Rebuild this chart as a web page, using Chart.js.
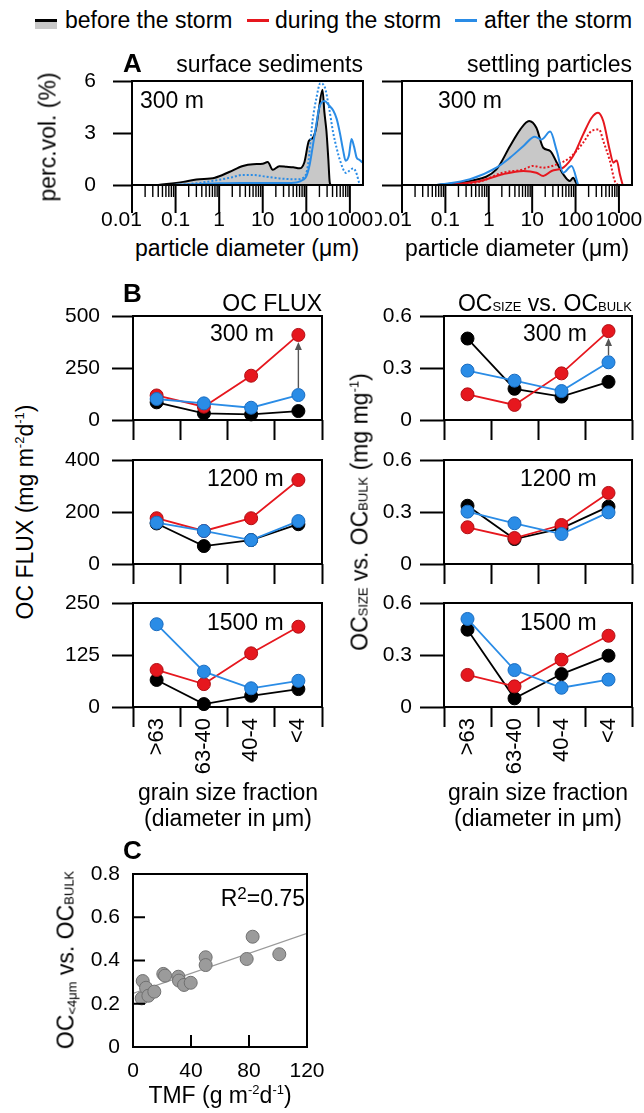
<!DOCTYPE html>
<html>
<head>
<meta charset="utf-8">
<script src="https://cdn.jsdelivr.net/npm/chart.js@4.4.1/dist/chart.umd.min.js"></script>
<style>
  body { margin: 0; background: #fff; }
  #fig { position: relative; width: 644px; height: 1113px; overflow: hidden;
         font-family: "Liberation Sans", Arial, Helvetica, sans-serif; color: #000; }
  #fig canvas { position: absolute; }
  .t { position: absolute; white-space: nowrap; font-size: 23px; line-height: 1; }
  .b { font-weight: bold; font-size: 26px; }
  .sc { font-size: 13px; }
  .sup { font-size: 13px; position: relative; top: -9px; }
  .sub { font-size: 13px; position: relative; top: 3px; }
  .key { position: absolute; height: 3px; width: 22px; }
</style>
</head>
<body>
<div id="fig"></div>
<script>
// ---- panel A: grain size distributions (300 m) ----
const decades = [0.01, 0.1, 1, 10, 100, 1000];
const decadeLabels = ['0.01', '0.1', '1', '10', '100', '1000'];

const surfBeforeD = [0.04, 0.15, 0.3, 0.8, 1.7, 3.5, 6, 10, 13, 17, 24, 35, 50, 70, 90, 115, 140, 165, 190, 235, 260, 290, 320, 345, 370];
const surfBeforeV = [0, 0.18, 0.32, 0.42, 0.75, 1.1, 1.2, 1.22, 1.33, 0.88, 1.08, 1.05, 1.02, 0.96, 1.3, 2.55, 2.7, 3.2, 4.2, 5.5, 4.2, 3.1, 1.5, 0.15, 0];
const surfAfterD = [0.08, 0.3, 1, 3, 10, 30, 60, 85, 100, 120, 140, 170, 200, 263, 330, 415, 500, 590, 700, 800, 950, 1090, 1250, 1420, 1650, 1950];
const surfAfterV = [0, 0.05, 0.1, 0.12, 0.12, 0.12, 0.15, 0.3, 0.5, 1.2, 2.2, 3.5, 4.5, 4.85, 4.6, 4.3, 3.8, 3.0, 2.0, 1.4, 1.7, 2.65, 2.2, 1.6, 1.45, 1.3];
const surfAfter2D = [0.1, 0.3, 1, 2, 3.5, 6, 12, 24, 58, 90, 110, 140, 170, 210, 263, 330, 415, 500, 590, 820, 1000, 1200, 1450, 1600, 1750];
const surfAfter2V = [0, 0.1, 0.3, 0.45, 0.58, 0.58, 0.48, 0.38, 0.33, 0.45, 1.2, 3.75, 5.0, 5.87, 5.67, 4.5, 3.0, 2.1, 1.44, 0.69, 0.85, 0.96, 0.6, 0.19, 0];

const settBeforeD = [0.063, 0.37, 1.5, 3.1, 5.3, 8.5, 12.5, 18, 26, 37, 52, 74, 88, 105, 115];
const settBeforeV = [0, 0.23, 0.9, 2.25, 3.2, 3.69, 3.3, 2.15, 1.96, 1.29, 0.62, 0.23, 0.42, 0.08, 0];
const settAfterD = [0.063, 0.37, 1.5, 3.1, 6.3, 11.5, 16.5, 26, 37, 52, 81, 115];
const settAfterV = [0, 0.33, 1.0, 1.58, 2.25, 2.79, 2.63, 3.08, 1.96, 0.71, 1.1, 0];
const settDuringD = [0.1, 0.63, 2.1, 6.3, 12.5, 18, 28, 52, 88, 150, 235, 330, 435, 620, 740, 890, 1050, 1220];
const settDuringV = [0, 0.23, 0.62, 0.81, 0.71, 0.52, 0.81, 1.0, 1.67, 2.92, 3.88, 4.17, 3.69, 1.96, 1.29, 1.42, 0.62, 0];
const settDuring2D = [0.2, 0.63, 2.1, 6.3, 10.5, 18, 37, 74, 150, 235, 350, 435, 620, 800, 950];
const settDuring2V = [0, 0.2, 0.71, 0.9, 1.1, 1.0, 1.19, 1.58, 2.44, 3.12, 3.2, 2.54, 1.38, 0.23, 0];

// ---- panel B: per grain size fraction ----
const grainFractions = ['>63', '63-40', '40-4', '<4'];

const fluxBefore300 = [85, 32, 27, 43];
const fluxDuring300 = [118, 64, 213, 409];
const fluxAfter300 = [101, 80, 59, 120];
const fluxBefore1200 = [156, 69, 92, 153];
const fluxDuring1200 = [176, 127, 176, 323];
const fluxAfter1200 = [159, 127, 92, 165];
const fluxBefore1500 = [65, 7, 27, 43];
const fluxDuring1500 = [89, 55, 129, 193];
const fluxAfter1500 = [199, 85, 45, 63];

const ratioBefore300 = [0.47, 0.18, 0.135, 0.22];
const ratioDuring300 = [0.148, 0.087, 0.269, 0.513];
const ratioAfter300 = [0.285, 0.227, 0.167, 0.333];
const ratioBefore1200 = [0.336, 0.144, 0.206, 0.331];
const ratioDuring1200 = [0.212, 0.15, 0.225, 0.41];
const ratioAfter1200 = [0.302, 0.235, 0.173, 0.298];
const ratioBefore1500 = [0.446, 0.05, 0.19, 0.296];
const ratioDuring1500 = [0.185, 0.119, 0.273, 0.411];
const ratioAfter1500 = [0.508, 0.213, 0.111, 0.158];

// ---- panel C: OC<4um ratio vs total mass flux ----
const tmf = [6.7, 6.0, 9.0, 10.6, 14.7, 20.9, 22.1, 31.3, 31.7, 35.2, 39.8, 50.1, 50.1, 78.4, 82.5, 100.9];
const ocFine = [0.305, 0.225, 0.274, 0.237, 0.256, 0.338, 0.33, 0.325, 0.307, 0.287, 0.297, 0.415, 0.379, 0.407, 0.51, 0.429];
const fitX = [0, 120];
const fitY = [0.248, 0.526];

const BLUE = '#2a8ce6', BLUE_EDGE = '#1a6cc0';
const RED = '#e6171e', RED_EDGE = '#b00e14';
const GRAY_FILL = '#c8c8c8';

Chart.defaults.font.family = "'Liberation Sans', Arial, Helvetica, sans-serif";
Chart.defaults.font.size = 21;
Chart.defaults.color = '#000';
Chart.defaults.animation = false;
Chart.defaults.events = [];
Chart.defaults.plugins.legend.display = false;
Chart.defaults.plugins.tooltip.enabled = false;

const fig = document.getElementById('fig');
const fmt = v => String(+(+v).toFixed(2));

// minor/major tick positions for the log axis
const diamTicks = [];
decades.forEach(d => {
  for (let m = 1; m <= 9; m++) {
    const v = m === 1 ? d : +(m * d).toPrecision(3);
    if (v <= 1000) diamTicks.push(v);
  }
});

function addCanvas(x, y, w, h) {
  const c = document.createElement('canvas');
  c.width = w; c.height = h;
  c.style.left = x + 'px'; c.style.top = y + 'px';
  c.style.width = w + 'px'; c.style.height = h + 'px';
  fig.appendChild(c);
  return c;
}

function text(html, x, y, align, cls) {
  const d = document.createElement('div');
  d.className = 't' + (cls ? ' ' + cls : '');
  d.innerHTML = html;
  d.style.left = x + 'px';
  d.style.top = y + 'px';
  if (align === 'rot') {
    d.style.transform = 'translate(-50%, -50%) rotate(-90deg)';
  } else {
    const tx = align === 'right' ? '-100%' : align === 'center' ? '-50%' : '0';
    d.style.transform = `translate(${tx}, -50%)`;
  }
  fig.appendChild(d);
}

// fixed axis sizes, no label overflow padding, so the plot boxes land where they should
function fixSize(prop, size) {
  return s => {
    s[prop] = size;
    s.paddingTop = s.paddingBottom = s.paddingLeft = s.paddingRight = 0;
  };
}

const frame = {
  id: 'frame',
  afterDraw(chart) {
    const { ctx, chartArea: a } = chart;
    ctx.save();
    ctx.strokeStyle = '#000';
    ctx.lineWidth = 2;
    ctx.strokeRect(a.left, a.top, a.right - a.left, a.bottom - a.top);
    ctx.restore();
  }
};

const logTicks = {
  id: 'logTicks',
  afterDraw(chart) {
    const { ctx, chartArea: a } = chart;
    const sc = chart.scales.x;
    ctx.save();
    ctx.strokeStyle = '#000';
    sc.ticks.forEach(t => {
      const px = sc.getPixelForValue(t.value);
      const major = decades.includes(t.value);
      ctx.lineWidth = major ? 2 : 1.4;
      ctx.beginPath();
      ctx.moveTo(px, a.bottom);
      ctx.lineTo(px, a.bottom + (major ? 28 : 12));
      ctx.stroke();
    });
    ctx.restore();
  }
};

const innerTicks = {
  id: 'innerTicks',
  afterDraw(chart) {
    const { ctx, chartArea: a, scales: { x, y } } = chart;
    ctx.save();
    ctx.strokeStyle = '#000';
    ctx.lineWidth = 2;
    ctx.beginPath();
    x.ticks.forEach(t => {
      const px = x.getPixelForValue(t.value);
      ctx.moveTo(px, a.bottom); ctx.lineTo(px, a.bottom - 12);
    });
    y.ticks.forEach(t => {
      const py = y.getPixelForValue(t.value);
      ctx.moveTo(a.left, py); ctx.lineTo(a.left + 12, py);
    });
    ctx.stroke();
    ctx.restore();
  }
};

function arrowPlugin(fromVals, toVals, idx) {
  return {
    id: 'arrow',
    afterDatasetsDraw(chart) {
      const { ctx, scales: { x, y } } = chart;
      const px = x.getPixelForValue(idx);
      const y0 = y.getPixelForValue(fromVals[idx]) - 7;
      const y1 = y.getPixelForValue(toVals[idx]) + 7;
      ctx.save();
      ctx.strokeStyle = '#555';
      ctx.fillStyle = '#555';
      ctx.lineWidth = 1.4;
      ctx.beginPath(); ctx.moveTo(px, y0); ctx.lineTo(px, y1 + 6); ctx.stroke();
      ctx.beginPath(); ctx.moveTo(px, y1); ctx.lineTo(px - 3.5, y1 + 8); ctx.lineTo(px + 3.5, y1 + 8);
      ctx.closePath(); ctx.fill();
      ctx.restore();
    }
  };
}

function yScale(min, max, step, tickLen, pad, width, showLabels) {
  return {
    min, max,
    ticks: { stepSize: step, padding: pad, callback: v => showLabels ? fmt(v) : '' },
    grid: { drawOnChartArea: false, drawTicks: true, tickLength: tickLen, tickWidth: 2, tickColor: '#000' },
    border: { display: false },
    afterFit: fixSize('width', width)
  };
}

// ---- panel A ----
function curve(ds, vs, color, extra) {
  return Object.assign({
    data: ds.map((d, i) => ({ x: d, y: vs[i] })),
    borderColor: color, borderWidth: 2, pointRadius: 0,
    cubicInterpolationMode: 'monotone', fill: false
  }, extra || {});
}

function aPanel(x, w, yw, rightPad, tickLen, showY, sets) {
  const c = addCanvas(x, 71, w, 160);
  return new Chart(c, {
    type: 'line',
    data: { datasets: sets },
    options: {
      responsive: false,
      layout: { padding: { top: 10, right: rightPad, left: 0, bottom: 0 }, autoPadding: false },
      scales: {
        x: {
          type: 'logarithmic', min: 0.01, max: 2000,
          afterBuildTicks: s => { s.ticks = diamTicks.map(v => ({ value: v })); },
          ticks: {
            autoSkip: false, maxRotation: 0, minRotation: 0, padding: 23,
            // first label sits a little left of its tick, as in the original
            callback: v => {
              const i = decades.indexOf(v);
              if (i < 0) return '';
              return i === 0 ? decadeLabels[i] + '\u2002\u2002' : decadeLabels[i];
            }
          },
          grid: { drawOnChartArea: false, drawTicks: false },
          border: { display: false },
          afterFit: fixSize('height', 46)
        },
        y: yScale(0, 6, 3, tickLen, 17, yw, showY)
      }
    },
    plugins: [frame, logTicks]
  });
}

aPanel(60, 320, 72, 17, 19, true, [
  curve(surfAfterD, surfAfterV, BLUE),
  curve(surfAfter2D, surfAfter2V, BLUE, { borderDash: [2, 2] }),
  curve(surfBeforeD, surfBeforeV, '#000', { fill: 'origin', backgroundColor: GRAY_FILL })
]);

aPanel(375, 269, 27, 12, 20, false, [
  curve(settAfterD, settAfterV, BLUE),
  curve(settDuringD, settDuringV, RED),
  curve(settDuring2D, settDuring2V, RED, { borderDash: [2, 2] }),
  curve(settBeforeD, settBeforeV, '#000', { fill: 'origin', backgroundColor: GRAY_FILL })
]);

// ---- panel B ----
function series(data, color, edge) {
  return {
    data, borderColor: color, backgroundColor: color,
    pointBackgroundColor: color, pointBorderColor: edge, pointBorderWidth: 1,
    pointRadius: 6.5, borderWidth: 1.8, tension: 0, clip: false
  };
}

function catScale(showLabels, height) {
  return {
    type: 'category', offset: true,
    grid: { offset: true, drawOnChartArea: false, drawTicks: true, tickLength: 20, tickWidth: 2, tickColor: '#000' },
    border: { display: false },
    ticks: { display: showLabels, autoSkip: false, minRotation: 90, maxRotation: 90, padding: -9, font: { size: 22 } },
    afterFit: fixSize('height', height)
  };
}

function bPanel(x, w, yw, rightPad, boxTop, yMax, yStep, tickLen, tickPad, showCats, before, during, after, extra) {
  const xh = showCats ? 90 : 30;
  const c = addCanvas(x, boxTop - 12, w, 12 + 104 + xh);
  return new Chart(c, {
    type: 'line',
    data: {
      labels: grainFractions,
      datasets: [series(after, BLUE, BLUE_EDGE), series(during, RED, RED_EDGE), series(before, '#000', '#000')]
    },
    options: {
      responsive: false,
      layout: { padding: { top: 12, right: rightPad, left: 0, bottom: 0 }, autoPadding: false },
      scales: { x: catScale(showCats, xh), y: yScale(0, yMax, yStep, tickLen, tickPad, yw, true) }
    },
    plugins: extra ? [frame, extra] : [frame]
  });
}

const rowTops = [316, 460, 603];
bPanel(50, 290, 83, 18, rowTops[0], 500, 250, 21, 12, false, fluxBefore300, fluxDuring300, fluxAfter300, arrowPlugin(fluxAfter300, fluxDuring300, 3));
bPanel(50, 290, 83, 18, rowTops[1], 400, 200, 21, 12, false, fluxBefore1200, fluxDuring1200, fluxAfter1200);
bPanel(50, 290, 83, 18, rowTops[2], 250, 125, 21, 12, true, fluxBefore1500, fluxDuring1500, fluxAfter1500);
bPanel(340, 304, 104, 12, rowTops[0], 0.6, 0.3, 24, 8, false, ratioBefore300, ratioDuring300, ratioAfter300, arrowPlugin(ratioAfter300, ratioDuring300, 3));
bPanel(340, 304, 104, 12, rowTops[1], 0.6, 0.3, 24, 8, false, ratioBefore1200, ratioDuring1200, ratioAfter1200);
bPanel(340, 304, 104, 12, rowTops[2], 0.6, 0.3, 24, 8, true, ratioBefore1500, ratioDuring1500, ratioAfter1500);

// ---- panel C ----
new Chart(addCanvas(70, 864, 270, 221), {
  type: 'scatter',
  data: {
    datasets: [
      { data: tmf.map((t, i) => ({ x: t, y: ocFine[i] })), pointRadius: 6.5,
        pointBackgroundColor: '#9b9b9b', pointBorderColor: '#707070', pointBorderWidth: 1, clip: false },
      { data: fitX.map((t, i) => ({ x: t, y: fitY[i] })), showLine: true, pointRadius: 0,
        borderColor: '#9a9a9a', borderWidth: 1.2 }
    ]
  },
  options: {
    responsive: false,
    layout: { padding: { top: 10, right: 33, left: 0, bottom: 0 }, autoPadding: false },
    scales: {
      x: {
        type: 'linear', min: 0, max: 120,
        ticks: { stepSize: 40, padding: 12, maxRotation: 0, callback: v => fmt(v) },
        grid: { drawOnChartArea: false, drawTicks: false },
        border: { display: false },
        afterFit: fixSize('height', 38)
      },
      y: {
        min: 0, max: 0.8,
        ticks: { stepSize: 0.2, padding: 13, callback: v => fmt(v) },
        grid: { drawOnChartArea: false, drawTicks: false },
        border: { display: false },
        afterFit: fixSize('width', 63)
      }
    }
  },
  plugins: [frame, innerTicks]
});

// ---- text ----
// legend
[['#000', 35], [RED, 247], [BLUE, 455]].forEach(([col, x]) => {
  const k = document.createElement('div');
  k.className = 'key';
  k.style.left = x + 'px'; k.style.top = '19px'; k.style.background = col;
  fig.appendChild(k);
});
const patch = document.createElement('div');
patch.className = 'key';
patch.style.cssText = 'left:35px;top:22px;height:7px;background:' + GRAY_FILL;
fig.appendChild(patch);
text('before the storm', 65, 20);
text('during the storm', 275, 20);
text('after the storm', 484, 20);

text('A', 123, 63, 'left', 'b');
text('surface sediments', 363, 64, 'right');
text('settling particles', 632, 64, 'right');
text('300 m', 140, 100);
text('300 m', 438, 100);
text('perc.vol. (%)', 48, 137, 'rot');
text('particle diameter (&mu;m)', 247, 248, 'center');
text('particle diameter (&mu;m)', 517, 248, 'center');

text('B', 123, 293, 'left', 'b');
text('OC FLUX', 322, 303, 'right');
text('OC<span class="sc">SIZE</span> vs. OC<span class="sc">BULK</span>', 632, 303, 'right');
text('300 m', 210, 333);
text('1200 m', 207, 478);
text('1500 m', 207, 622);
text('300 m', 523, 333);
text('1200 m', 520, 478);
text('1500 m', 520, 622);
text('OC FLUX (mg m<span class="sup">-2</span>d<span class="sup">-1</span>)', 25, 512, 'rot');
text('OC<span class="sc">SIZE</span> vs. OC<span class="sc">BULK</span> (mg mg<span class="sup">-1</span>)', 360, 512, 'rot');
text('grain size fraction', 228, 792, 'center');
text('(diameter in &mu;m)', 228, 818, 'center');
text('grain size fraction', 538, 792, 'center');
text('(diameter in &mu;m)', 538, 818, 'center');

text('C', 123, 850, 'left', 'b');
text('R<span style="font-size:17px;position:relative;top:-7px">2</span>=0.75', 305, 898, 'right');
text('OC<span class="sub">&lt;4&mu;m</span> vs. OC<span class="sc">BULK</span>', 66, 960, 'rot');
text('TMF (g m<span class="sup">-2</span>d<span class="sup">-1</span>)', 220, 1095, 'center');
</script>
</body>
</html>
